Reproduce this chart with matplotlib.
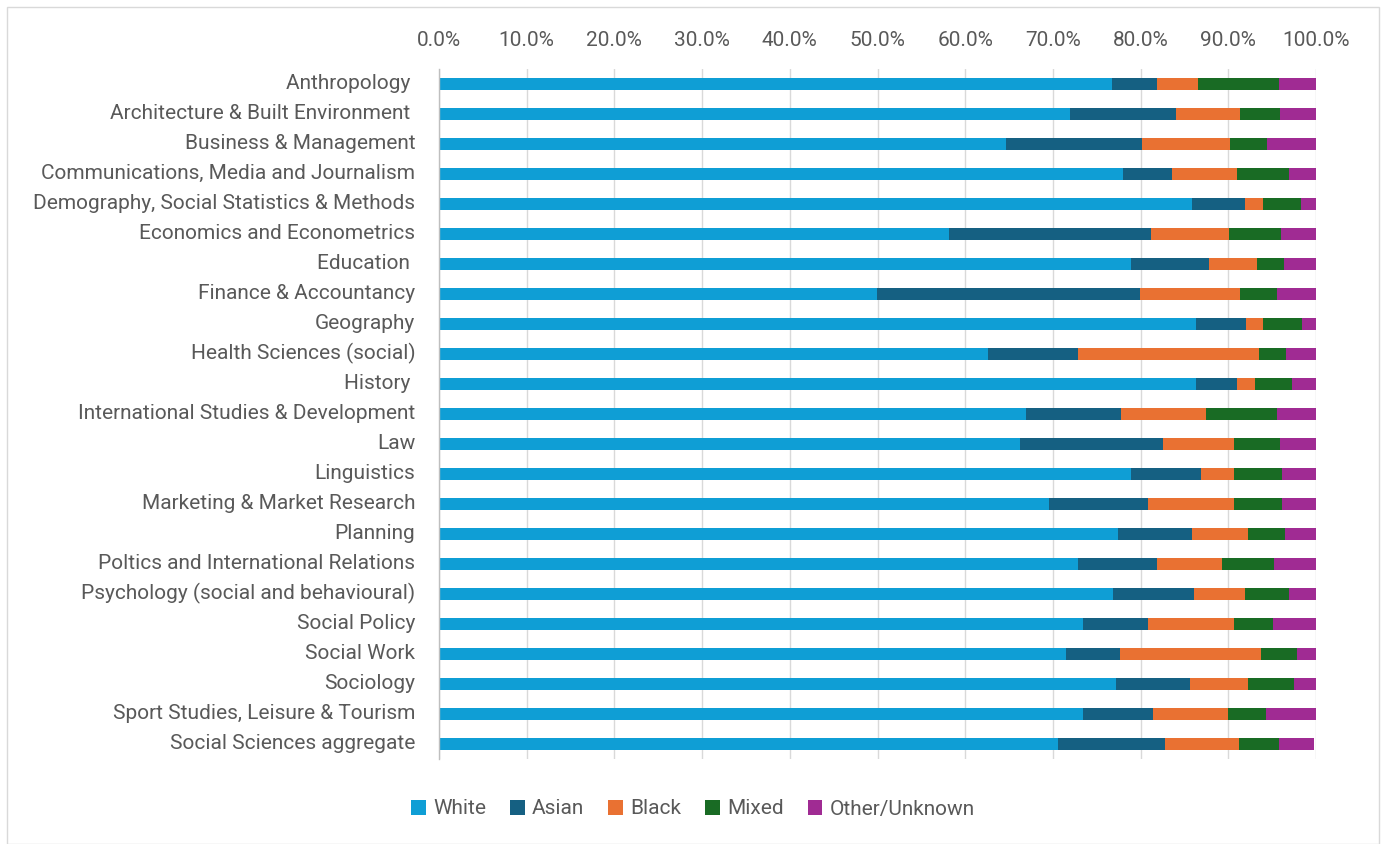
import matplotlib
matplotlib.use("Agg")
import matplotlib.pyplot as plt
import matplotlib.transforms as mtransforms
from matplotlib.patches import Rectangle
from matplotlib.ticker import PercentFormatter
import numpy as np

subjects = [
    "Anthropology ",
    "Architecture & Built Environment ",
    "Business & Management",
    "Communications, Media and Journalism",
    "Demography, Social Statistics & Methods",
    "Economics and Econometrics",
    "Education ",
    "Finance & Accountancy",
    "Geography",
    "Health Sciences (social)",
    "History ",
    "International Studies & Development",
    "Law",
    "Linguistics",
    "Marketing & Market Research",
    "Planning",
    "Poltics and International Relations",
    "Psychology (social and behavioural)",
    "Social Policy",
    "Social Work",
    "Sociology",
    "Sport Studies, Leisure & Tourism",
    "Social Sciences aggregate",
]

white = [76.7, 71.9, 64.6, 78.0, 85.9, 58.1, 78.9, 49.9, 86.3, 62.6, 86.3, 66.9,
         66.3, 78.9, 69.5, 77.4, 72.9, 76.8, 73.4, 71.5, 77.2, 73.4, 70.6]
asian = [5.2, 12.1, 15.6, 5.6, 6.0, 23.1, 8.9, 30.0, 5.7, 10.3, 4.7, 10.9,
         16.2, 8.0, 11.4, 8.5, 9.0, 9.3, 7.5, 6.1, 8.4, 8.0, 12.2]
black = [4.6, 7.3, 10.0, 7.4, 2.0, 8.9, 5.5, 11.4, 2.0, 20.6, 2.0, 9.7,
         8.2, 3.7, 9.8, 6.3, 7.4, 5.8, 9.7, 16.1, 6.7, 8.6, 8.4]
mixed = [9.3, 4.6, 4.2, 5.9, 4.4, 5.9, 3.0, 4.2, 4.4, 3.1, 4.3, 8.0,
         5.2, 5.5, 5.4, 4.3, 5.9, 5.0, 4.5, 4.1, 5.2, 4.3, 4.6]
other = [4.2, 4.1, 5.6, 3.1, 1.7, 4.0, 3.7, 4.5, 1.6, 3.4, 2.7, 4.5,
         4.1, 3.9, 3.9, 3.5, 4.8, 3.1, 4.9, 2.2, 2.5, 5.7, 4.0]

series = ["White", "Asian", "Black", "Mixed", "Other/Unknown"]
colors = ["#0F9ED5", "#156082", "#E97132", "#196B24", "#A02B93"]
text_color = "#595959"
font_size = 15

plt.rcParams["font.family"] = ["Roboto", "DejaVu Sans"]

fig = plt.figure(figsize=(13.86, 8.44), dpi=100)
ax = fig.add_axes([439 / 1386, 1 - 759 / 844, (1316 - 439) / 1386, (759 - 69) / 844])

# outer chart frame
fig.patches.append(Rectangle((7 / 1386, 0), 1372 / 1386, 1 - 7 / 844,
                             transform=fig.transFigure, fill=False,
                             edgecolor="#d9d9d9", linewidth=1.0))

y = np.arange(len(subjects))
left = np.zeros(len(subjects))
for name, vals, col in zip(series, [white, asian, black, mixed, other], colors):
    vals = np.asarray(vals)
    ax.barh(y, vals, left=left, height=0.43, color=col, label=name, zorder=3)
    left += vals

ax.set_xlim(0, 100)
ax.set_ylim(len(subjects) - 0.5, -0.5)
ax.set_yticks(y)
ax.set_yticklabels(subjects)
ax.set_xticks(np.arange(0, 101, 10))
ax.xaxis.set_major_formatter(PercentFormatter(decimals=1))
ax.xaxis.tick_top()
ax.tick_params(axis="x", length=0, pad=14, labelsize=font_size, labelcolor=text_color)
ax.tick_params(axis="y", length=0, pad=17, labelsize=font_size, labelcolor=text_color)

# nudge category labels up slightly so they sit level with the bars
nudge = mtransforms.ScaledTranslation(0, 2 / 72, fig.dpi_scale_trans)
for lbl in ax.get_yticklabels():
    lbl.set_transform(lbl.get_transform() + nudge)

ax.grid(axis="x", color="#d9d9d9", linewidth=1.0, zorder=0)
for s in ["top", "right", "bottom"]:
    ax.spines[s].set_visible(False)
ax.spines["left"].set_color("#bfbfbf")
ax.spines["left"].set_linewidth(1.0)
ax.spines["left"].set_zorder(4)

leg = fig.legend(loc="center", bbox_to_anchor=(0.5, 1 - 809 / 844), ncol=5,
                 frameon=False, fontsize=font_size, handlelength=0.7, handleheight=0.7,
                 handletextpad=0.35, columnspacing=1.15)
for t in leg.get_texts():
    t.set_color(text_color)

fig.savefig("out.png", dpi=100)
